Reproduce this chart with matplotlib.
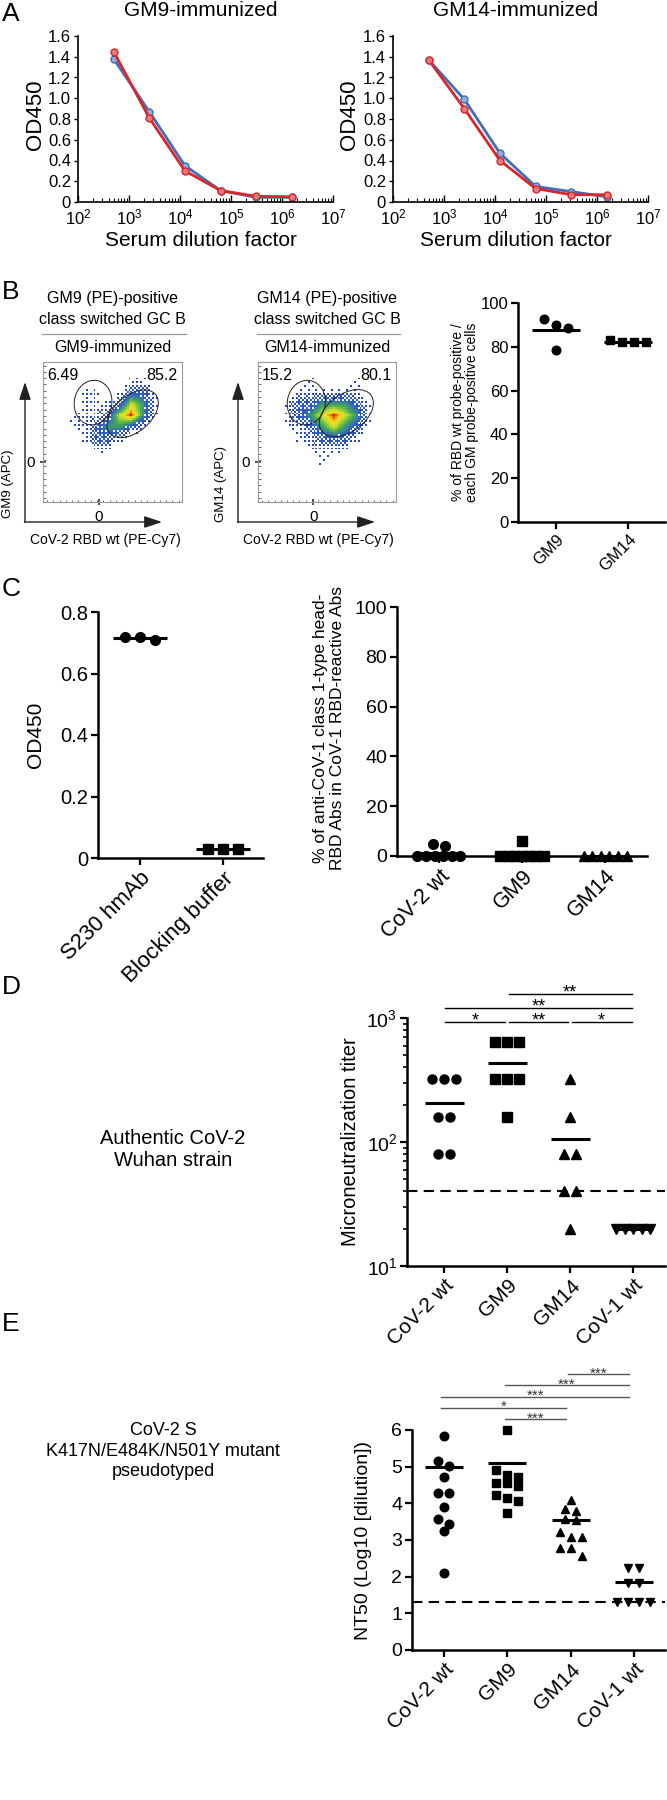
import numpy as np
import matplotlib
matplotlib.use('Agg')
import matplotlib.pyplot as plt
from matplotlib.patches import Ellipse
from matplotlib.colors import LinearSegmentedColormap
from matplotlib.ticker import LogLocator, NullFormatter

plt.rcParams['font.family'] = ['Liberation Sans', 'DejaVu Sans']
plt.rcParams['mathtext.fontset'] = 'custom'
plt.rcParams['mathtext.rm'] = 'Liberation Sans'
plt.rcParams['mathtext.it'] = 'Liberation Sans:italic'
plt.rcParams['mathtext.bf'] = 'Liberation Sans:bold'

W, H = 667, 1800

# A: ELISA titration curves
dilution = [500, 2500, 12500, 62500, 312500, 1562500]
a_gm9_wt = [1.45, 0.81, 0.30, 0.11, 0.055, 0.05]
a_gm9_gm = [1.38, 0.87, 0.35, 0.11, 0.045, 0.045]
a_gm14_wt = [1.37, 0.90, 0.40, 0.13, 0.07, 0.07]
a_gm14_gm = [1.37, 0.99, 0.47, 0.15, 0.10, 0.05]

flow_gm9_density = [
    "000000000000",
    "000000011000",
    "000110122100",
    "000111243100",
    "001112453100",
    "001123321000",
    "000122100000",
    "000011000000",
    "000000000000",
    "000000000000",
    "000000000000",
    "000000000000",
]
flow_gm14_density = [
    "000000000000",
    "000010001000",
    "000111111000",
    "001223332100",
    "001234543100",
    "001123432100",
    "000112221000",
    "000011110000",
    "000001000000",
    "000000000000",
    "000000000000",
    "000000000000",
]
gate_gm9 = ['6.49', '85.2']
gate_gm14 = ['15.2', '80.1']

b_groups = ['GM9', 'GM14']
b_gm9 = [92.9, 90.0, 88.8, 78.6]
b_gm14 = [82.4, 82.0, 82.0, 83.2]

# C
c_od_groups = ['S230 hmAb', 'Blocking buffer']
c_s230 = [0.72, 0.71, 0.72]
c_block = [0.03, 0.03, 0.03]

c_pct_groups = ['CoV-2 wt', 'GM9', 'GM14']
c_pct_wt = [0, 0, 0, 0, 0, 0, 4.2, 4.8]
c_pct_gm9 = [0, 0, 0, 0, 0, 0, 0, 6.0]
c_pct_gm14 = [0, 0, 0, 0, 0, 0]

# D: microneutralization titers
d_groups = ['CoV-2 wt', 'GM9', 'GM14', 'CoV-1 wt']
d_wt = [320, 320, 320, 160, 160, 80, 80]
d_gm9 = [640, 640, 640, 320, 320, 320, 160]
d_gm14 = [320, 160, 80, 80, 40, 40, 20]
d_cov1 = [20, 20, 20, 20, 20]
d_limit = 40
d_sig = [(0, 1, '*'), (1, 2, '**'), (2, 3, '*'), (0, 3, '**'), (1, 3, '**')]

# E: NT50 pseudovirus
e_wt = [5.85, 5.16, 5.02, 4.71, 4.29, 4.29, 3.89, 3.56, 3.44, 3.25, 2.09]
e_gm9 = [6.0, 4.91, 4.77, 4.73, 4.56, 4.55, 4.47, 4.23, 4.15, 4.06, 3.73]
e_gm14 = [4.09, 3.85, 3.80, 3.56, 3.55, 3.23, 3.09, 3.09, 2.77, 2.77, 2.56]
e_cov1 = [2.23, 2.23, 1.84, 1.84, 1.32, 1.32, 1.32, 1.32]
e_limit = 1.3
e_sig = [(1, 2, '***'), (0, 2, '*'), (0, 3, '***'), (1, 3, '***'), (2, 3, '***')]

RED = '#d9262b'
BLUE = '#3f6fba'


def px_axes(fig, x0, y0, x1, y1):
    return fig.add_axes([x0 / W, 1 - y1 / H, (x1 - x0) / W, (y1 - y0) / H])


def prism(ax, fs):
    for s in ['top', 'right']:
        ax.spines[s].set_visible(False)
    for s in ['left', 'bottom']:
        ax.spines[s].set_linewidth(1.8)
    ax.tick_params(width=1.6, length=5, labelsize=fs, direction='out', pad=2)


def swarm(vals, ypx, step, maxw):
    order = np.argsort(vals)[::-1]
    rows = []
    for idx in order:
        y = ypx(vals[idx])
        if rows and abs(rows[-1][0] - y) < step * 0.8:
            rows[-1][1].append(idx)
        else:
            rows.append([y, [idx]])
    offs = np.zeros(len(vals))
    for _, members in rows:
        n = len(members)
        st = step if n < 2 else min(step, maxw / (n - 1))
        for k, idx in enumerate(members):
            offs[idx] = (k - (n - 1) / 2) * st
    return offs


def dot_panel(ax, groups, markers, ms, xppu, ypx, step, maxw, halfw, mean=np.mean):
    for i, (vals, m) in enumerate(zip(groups, markers)):
        vals = np.asarray(vals, float)
        offs = swarm(vals, ypx, step, maxw)
        ax.plot(i + offs / xppu, vals, ls='none', marker=m, ms=ms, mfc='k', mec='k',
                clip_on=False, zorder=3)
        mv = mean(vals)
        ax.plot([i - halfw / xppu, i + halfw / xppu], [mv, mv], color='k', lw=2.2,
                zorder=4, solid_capstyle='butt', clip_on=False)


def rot_labels(ax, labels, fs):
    ax.set_xticks(range(len(labels)))
    ax.set_xticklabels(labels, rotation=45, ha='right', rotation_mode='anchor', fontsize=fs)


def smooth_density(rows, f=6):
    arr = np.array([[int(c) for c in row] for row in rows], float)
    arr = np.kron(arr, np.ones((f, f)))
    k = np.ones(f) / f
    arr = np.apply_along_axis(lambda r: np.convolve(r, k, mode='same'), 0, arr)
    arr = np.apply_along_axis(lambda r: np.convolve(r, k, mode='same'), 1, arr)
    # ordered (Bayer) dithering so sparse regions look like single events
    bayer = np.array([[0, 8, 2, 10], [12, 4, 14, 6], [3, 11, 1, 9], [15, 7, 13, 5]], float)
    thr = 0.6 + 2.2 * (bayer + 0.5) / 16
    ny, nx = arr.shape
    tiles = np.tile(thr, (ny // 4 + 1, nx // 4 + 1))[:ny, :nx]
    return np.ma.masked_where(arr <= tiles, arr)


fig = plt.figure(figsize=(W / 100, H / 100), dpi=100)
ov = fig.add_axes([0, 0, 1, 1])
ov.set_xlim(0, W)
ov.set_ylim(H, 0)
ov.axis('off')

# panel letters
for lt, y in [('A', 2), ('B', 280), ('C', 577), ('D', 975), ('E', 1312)]:
    ov.text(2, y, lt, fontsize=19, va='top', ha='left')

# ---------------- A ----------------
for (x0, x1), title, wt, gm, name in [((78, 333), 'GM9-immunized', a_gm9_wt, a_gm9_gm, 'GM9'),
                                      ((393, 648), 'GM14-immunized', a_gm14_wt, a_gm14_gm, 'GM14')]:
    ax = px_axes(fig, x0, 36, x1, 202)
    ax.plot(dilution, gm, '-o', color=BLUE, lw=2, ms=5, mfc='#93acd9', mec=BLUE, mew=1, clip_on=False)
    ax.plot(dilution, wt, '-o', color=RED, lw=2, ms=5, mfc='#e77a7a', mec=RED, mew=1, clip_on=False)
    ax.set_xscale('log')
    ax.set_xlim(1e2, 1e7)
    ax.set_ylim(0, 1.6)
    yt = np.arange(0, 1.61, 0.2)
    ax.set_yticks(yt)
    ax.set_yticklabels(['0'] + [f'{v:.1f}' for v in yt[1:]])
    for s in ['top', 'right']:
        ax.spines[s].set_visible(False)
    for s in ['left', 'bottom']:
        ax.spines[s].set_linewidth(1.2)
    ax.xaxis.set_major_locator(LogLocator(base=10, numticks=10))
    ax.xaxis.set_minor_locator(LogLocator(base=10, subs=np.arange(2, 10), numticks=50))
    ax.xaxis.set_minor_formatter(NullFormatter())
    ax.tick_params(axis='x', which='major', direction='in', length=5, width=1, labelsize=12, pad=4)
    ax.tick_params(axis='x', which='minor', direction='in', length=3, width=0.8)
    ax.tick_params(axis='y', direction='out', length=3, width=1, labelsize=12, pad=2)
    cx = (x0 + x1) / 2
    ov.text(cx - 5, 10, title, ha='center', va='center', fontsize=15)
    ov.text(cx - 5, 240, 'Serum dilution factor', ha='center', va='center', fontsize=15)
    ov.text(x0 - 43, 115, 'OD450', rotation=90, ha='center', va='center', fontsize=16)
    ov.text(x0 + 140, 50, 'CoV-2 wt', color=RED, ha='left', va='center', fontsize=10.5)
    ov.text(x0 + 140, 68, name, color='#2f4f9a', ha='left', va='center', fontsize=10.5)

# ---------------- B flow ----------------
flow_cmap = LinearSegmentedColormap.from_list(
    'flow', [(0, '#2442b8'), (0.4, '#2f5fc8'), (0.6, '#49ad4c'), (0.75, '#c9dc2e'),
             (0.85, '#f6de1a'), (0.93, '#f0871c'), (1.0, '#e3201b')])

flows = [
    (43, 182, flow_gm9_density, gate_gm9, 'GM9', 'GM9-immunized',
     [(36, 71, 27, 32, -10), (64.5, 63, 43, 26, 40)], 25),
    (258, 396, flow_gm14_density, gate_gm14, 'GM14', 'GM14-immunized',
     [(35, 71, 27.5, 32, -10), (64, 63.5, 44, 27, 35)], 238),
]
for x0, x1, dens, gates, gm, imm, ells, ax_x in flows:
    ax = px_axes(fig, x0, 362, x1, 502)
    ax.imshow(smooth_density(dens), extent=(0, 100, 0, 100), cmap=flow_cmap, vmin=0.6, vmax=5.0,
              interpolation='nearest', aspect='auto')
    for cxe, cye, we, he, ang in ells:
        ax.add_patch(Ellipse((cxe, cye), we, he, angle=ang, fill=False, lw=0.7, ec='#222222',
                             zorder=3))
    ax.set_xlim(0, 100)
    ax.set_ylim(0, 100)
    for s in ax.spines.values():
        s.set_color('#9a9a9a')
        s.set_linewidth(0.8)
    ax.set_yticks([28.6])
    ax.set_yticklabels(['0'])
    ax.set_xticks([40])
    ax.set_xticklabels(['0'])
    ax.set_yticks(np.arange(3, 100, 4.5), minor=True)
    ax.set_xticks(np.arange(3, 100, 4.5), minor=True)
    ax.tick_params(which='major', direction='inout', length=5, width=1.2, color='#333',
                   labelsize=11, pad=3)
    ax.tick_params(which='minor', direction='in', length=1.8, width=0.6, color='#555')
    ax.text(3, 96, gates[0], ha='left', va='top', fontsize=11.5)
    ax.text(97, 96, gates[1], ha='right', va='top', fontsize=11.5)
    cx = (x0 + x1) / 2
    ov.text(cx, 298, f'{gm} (PE)-positive', ha='center', va='center', fontsize=11.5)
    ov.text(cx, 319, 'class switched GC B', ha='center', va='center', fontsize=11.5)
    ov.plot([x0 - 1, x1 + 4], [334, 334], color='#999999', lw=0.9)
    ov.text(cx, 348, imm, ha='center', va='center', fontsize=11.5)
    arrow = dict(arrowstyle='-|>,head_length=0.9,head_width=0.3', color='#222', lw=1.0,
                 shrinkA=0, shrinkB=0, mutation_scale=12)
    ov.annotate('', xy=(ax_x, 382), xytext=(ax_x, 522.5), arrowprops=arrow)
    ov.annotate('', xy=(ax_x + 137, 522), xytext=(ax_x - 0.5, 522), arrowprops=arrow)
    ov.text(ax_x + 80, 540, 'CoV-2 RBD wt (PE-Cy7)', ha='center', va='center', fontsize=10)
    ov.text(ax_x - 17, 484, f'{gm} (APC)', rotation=90, ha='center', va='center', fontsize=9.5)

# ---------------- B scatter ----------------
ax = px_axes(fig, 518, 303, 665, 522)
prism(ax, 12)
ax.set_xlim(-0.53, 1.51)
ax.set_ylim(0, 100)
ax.set_yticks(range(0, 101, 20))
dot_panel(ax, [b_gm9, b_gm14], ['o', 's'], 6.2, 72, lambda v: v * 2.19, 12, 36, 24)
rot_labels(ax, b_groups, 12)
ov.text(465, 412, '% of RBD wt probe-positive /\neach GM probe-positive cells', rotation=90,
        ha='center', va='center', fontsize=10, linespacing=1.05)

# ---------------- C left ----------------
ax = px_axes(fig, 98, 612, 263, 858)
prism(ax, 14.5)
ax.set_xlim(-0.506, 1.48)
ax.set_ylim(0, 0.8)
yt = np.arange(0, 0.81, 0.2)
ax.set_yticks(yt)
ax.set_yticklabels(['0'] + [f'{v:.1f}' for v in yt[1:]])
dot_panel(ax, [c_s230, c_block], ['o', 's'], 7, 83, lambda v: v * 307, 15, 30, 27)
rot_labels(ax, c_od_groups, 16)
ov.text(35, 735, 'OD450', rotation=90, ha='center', va='center', fontsize=15)

# ---------------- C right ----------------
ax = px_axes(fig, 397, 607, 647, 856)
prism(ax, 14)
ax.set_xlim(-0.506, 2.506)
ax.set_ylim(0, 100)
ax.set_yticks(range(0, 101, 20))
dot_panel(ax, [c_pct_wt, c_pct_gm9, c_pct_gm14], ['o', 's', '^'], 7, 83,
          lambda v: v * 2.49, 12, 43, 24)
rot_labels(ax, c_pct_groups, 15.5)
ov.text(329, 728, '% of anti-CoV-1 class 1-type head-\nRBD Abs in CoV-1 RBD-reactive Abs',
        rotation=90, ha='center', va='center', fontsize=12.5, linespacing=1.25)

# ---------------- D ----------------
ax = px_axes(fig, 407, 1018, 665, 1266)
prism(ax, 14)
ax.set_yscale('log')
ax.set_ylim(10, 1000)
ax.set_xlim(-0.59, 3.5)
ax.yaxis.set_major_locator(LogLocator(base=10, numticks=5))
ax.yaxis.set_minor_locator(LogLocator(base=10, subs=np.arange(2, 10), numticks=20))
ax.yaxis.set_minor_formatter(NullFormatter())
ax.tick_params(axis='y', which='minor', length=3, width=1.2)
ax.axhline(d_limit, color='k', lw=1.5, ls=(0, (5, 3)), zorder=2)
dot_panel(ax, [d_wt, d_gm9, d_gm14, d_cov1], ['o', 's', '^', 'v'], 6.5, 63.1,
          lambda v: np.log10(v) * 124, 12, 34, 19.5)
rot_labels(ax, d_groups, 15)
tr = ax.get_xaxis_transform()
d_rows = [0, 0, 0, 1, 2]
for (i, j, lab), r in zip(d_sig, d_rows):
    yf = 0.984 + 0.056 * r
    x1, x2 = i + 0.02, j - 0.03
    ax.plot([x1, x2], [yf, yf], transform=tr, color='k', lw=1, clip_on=False)
    ax.annotate(lab, ((x1 + x2) / 2, yf), xycoords=tr, xytext=(0, -2.5), textcoords='offset points',
                ha='center', va='baseline', fontsize=13)
ov.text(350, 1142, 'Microneutralization titer', rotation=90, ha='center', va='center', fontsize=14.5)
ov.text(173, 1150, 'Authentic CoV-2\nWuhan strain', ha='center', va='center', fontsize=14.5,
        linespacing=1.2)

# ---------------- E ----------------
ax = px_axes(fig, 412, 1430, 665, 1650)
prism(ax, 14)
ax.set_ylim(0, 6)
ax.set_xlim(-0.505, 3.49)
ax.set_yticks(range(0, 7))
ax.axhline(e_limit, color='k', lw=1.5, ls=(0, (5, 3)), zorder=2)
dot_panel(ax, [e_wt, e_gm9, e_gm14, e_cov1], ['o', 's', '^', 'v'], 6.2, 63.3,
          lambda v: v * 36.7, 11, 34, 19, mean=lambda v: np.log10(np.mean(10 ** v)))
rot_labels(ax, d_groups, 15)
tr = ax.get_xaxis_transform()
for k, (i, j, lab) in enumerate(e_sig):
    yf = 1.05 + 0.051 * k
    x1, x2 = i - 0.04, j - 0.08
    ax.plot([x1, x2], [yf, yf], transform=tr, color='#555555', lw=1, clip_on=False)
    ax.annotate(lab, ((x1 + x2) / 2, yf), xycoords=tr, xytext=(0, -2.5), textcoords='offset points',
                ha='center', va='baseline', fontsize=11, color='#333333')
ov.text(363, 1540, 'NT50 (Log10 [dilution])', rotation=90, ha='center', va='center', fontsize=14)
ov.text(163, 1451, 'CoV-2 S\nK417N/E484K/N501Y mutant\npseudotyped', ha='center', va='center',
        fontsize=13, linespacing=1.3)

fig.savefig('out.png', dpi=100, facecolor='white')
